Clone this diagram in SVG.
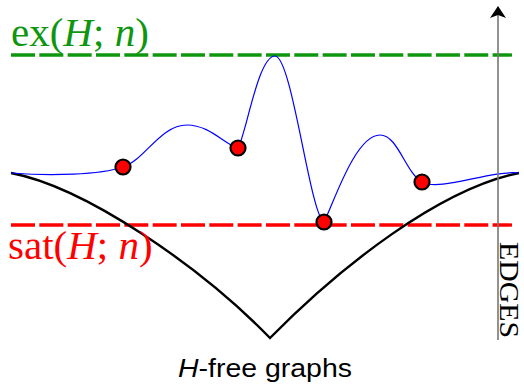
<svg xmlns="http://www.w3.org/2000/svg" width="524" height="385" viewBox="0 0 524 385">
<style>
.dash{fill:none;stroke-width:3.3;stroke-dasharray:24 4.33}
.serif{font-family:"Liberation Serif","Times New Roman",serif}
.node{fill:#ff0000;stroke:#000;stroke-width:2.2}
</style>
<defs>
<marker id="arr" viewBox="0 0 12 18" refX="11" refY="9" markerWidth="12" markerHeight="18" markerUnits="userSpaceOnUse" orient="auto">
<path d="M0,1 L12,9 L0,17 L3,9 Z" fill="#000"/>
</marker>
</defs>
<rect width="524" height="385" fill="#fff"/>
<g id="connectors">
<line id="ex-line" class="dash" x1="11" y1="55" x2="512" y2="55" stroke="#0f960f"/>
<line id="sat-line" class="dash" x1="11" y1="225" x2="512" y2="225" stroke="#ff0000"/>
<path id="lower" d="M11,173 C85,187 200,266 270,338 C342,265 440,189 519,173" fill="none" stroke="#000" stroke-width="2.4"/>
<path id="curve" d="M11,173 C50,176 100,175 123,167 C145,160 160,125 187,125 C210,125 225,145 238,148 C246,135 258,56 275,56 C292,56 310,215 324,222 C333,205 355,135 380,135 C398,135 405,172 422,182 C440,192 490,170 519,173" fill="none" stroke="#0000ff" stroke-width="1.2"/>
<line id="axis" x1="498" y1="340" x2="498" y2="7" stroke="#777" stroke-width="1.6" marker-end="url(#arr)"/>
</g>
<g id="n1"><circle class="node" cx="123" cy="167" r="7.5"/></g>
<g id="n2"><circle class="node" cx="238" cy="148" r="7.5"/></g>
<g id="n3"><circle class="node" cx="324" cy="222" r="7.5"/></g>
<g id="n4"><circle class="node" cx="422" cy="182" r="7.5"/></g>
<g id="labels">
<text class="serif" x="11" y="46" font-size="41" fill="#0f960f">ex(<tspan font-style="italic">H</tspan>; <tspan font-style="italic">n</tspan>)</text>
<text class="serif" x="8" y="259" font-size="41" fill="#ff0000">sat(<tspan font-style="italic">H</tspan>; <tspan font-style="italic">n</tspan>)</text>
<text font-family="'Liberation Sans',Arial,sans-serif" x="178" y="377" font-size="25" textLength="174" lengthAdjust="spacingAndGlyphs"><tspan font-style="italic">H</tspan>-free graphs</text>
<text class="serif" transform="translate(500,242) rotate(90)" font-size="28" textLength="96" lengthAdjust="spacingAndGlyphs">EDGES</text>
</g>
</svg>
